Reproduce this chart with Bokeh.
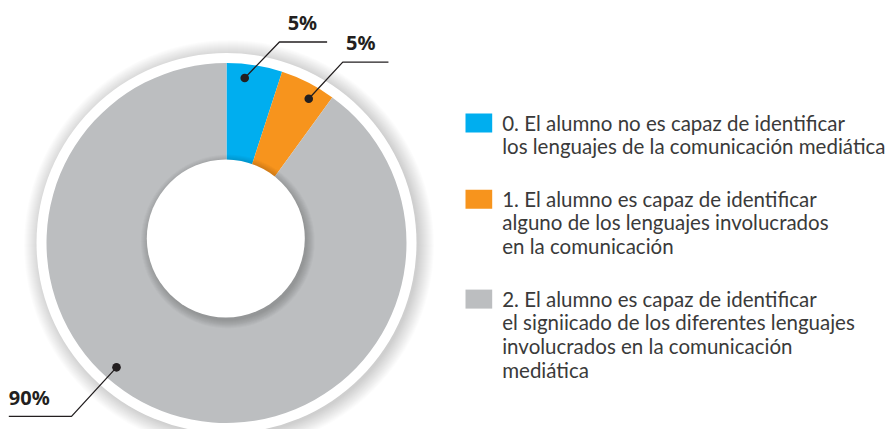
import numpy as np
from bokeh.plotting import figure
from bokeh.models import Range1d
from bokeh.core.properties import value
from bokeh.embed import file_html
from bokeh.resources import INLINE

# ---- data ----
categories = ["0", "1", "2"]
percent = [5, 5, 90]
pct_labels = ["5%", "5%", "90%"]
colors = ["#00AEEF", "#F7941D", "#BCBEC0"]
legend_lines = [
    ["0. El alumno no es capaz de identificar",
     "los lenguajes de la comunicación mediática"],
    ["1. El alumno es capaz de identificar",
     "alguno de los lenguajes involucrados",
     "en la comunicación"],
    ["2. El alumno es capaz de identificar",
     "el signiicado de los diferentes lenguajes",
     "involucrados en la comunicación",
     "mediática"],
]

# ---- layout (pixel units, y up) ----
W, H = 890, 429
TEXT_SHIFT = 8.0  # compensate baseline placement of svg text


def X(rx):
    return rx


def Y(ry):
    return H - ry


CX, CY = X(226.0), Y(242.5)
R_OUT, R_IN = 180.0, 79.0
ICX, ICY = X(225.3), Y(238.0)
DOT_R = 166.0
label_angle_deg = [83.7, 60.3, 228.5]
elbow_dx = [34.7, 34.0, -45.0]
elbow_dy = [36.0, 36.7, -49.0]
hline_len = [47.7, 45.7, -62.7]
label_dx = [23.0, 18.0, -62.7]
label_dy = [12.0, 12.0, 10.7]
label_align = ["center", "center", "left"]

LEG_SQ_X, LEG_SQ_W, LEG_SQ_H = X(465.0), 26.7, 19.0
LEG_TX = X(501.7)
LEG_FIRST_BASE = Y(130.0)
LINE_STEP = 23.7
ITEM_GAP = 52.5

TEXT_COLOR = "#3a3a3a"
DARK = "#231F20"

p = figure(width=W, height=H, x_range=Range1d(0, W), y_range=Range1d(0, H),
           output_backend="svg", toolbar_location=None, min_border=0,
           x_axis_location=None, y_axis_location=None)
p.grid.visible = False
p.outline_line_color = None
p.background_fill_color = "white"
p.border_fill_color = "white"

# outer soft shadow
for rr in np.arange(205, 189, -1):
    p.circle(x=[CX + 2.5], y=[CY - 2.0], radius=float(rr), fill_color="black",
             fill_alpha=0.012, line_color=None)
p.circle(x=[CX], y=[CY], radius=190.0, fill_color="white", line_color=None)

# wedges
frac = np.array(percent, dtype=float) / sum(percent)
cum = np.concatenate([[0.0], np.cumsum(frac)])
start = np.pi / 2 - 2 * np.pi * cum[:-1]
end = np.pi / 2 - 2 * np.pi * cum[1:]
p.wedge(x=CX, y=CY, radius=R_OUT, start_angle=start, end_angle=end,
        direction="clock", fill_color=colors, line_color=None)

# inner shadow + hole
for k in range(8, -1, -1):
    p.circle(x=[ICX + 2.0], y=[ICY - 3.0], radius=R_IN + k, fill_color="black",
             fill_alpha=0.025, line_color=None)
p.circle(x=[ICX], y=[ICY], radius=R_IN, fill_color="white", line_color=None)

# leader lines, dots, labels
for i, lab in enumerate(pct_labels):
    a = np.deg2rad(label_angle_deg[i])
    dx, dy = CX + DOT_R * np.cos(a), CY + DOT_R * np.sin(a)
    ex, ey = dx + elbow_dx[i], dy + elbow_dy[i]
    hx = ex + hline_len[i]
    p.line(x=[dx, ex, hx], y=[dy, ey, ey], line_color=DARK, line_width=1.3)
    p.circle(x=[dx], y=[dy], radius=4.3, fill_color=DARK, line_color=None)
    p.text(x=[ex + label_dx[i]], y=[ey + label_dy[i] + TEXT_SHIFT], text=[lab],
           text_font=value("Noto Sans"), text_font_style="bold",
           text_font_size="20px", text_color=DARK, text_align=label_align[i],
           text_baseline="alphabetic")

# legend
base = LEG_FIRST_BASE
for i, lines in enumerate(legend_lines):
    p.rect(x=[LEG_SQ_X + LEG_SQ_W / 2], y=[base - 2 + LEG_SQ_H / 2],
           width=LEG_SQ_W, height=LEG_SQ_H, fill_color=colors[i], line_color=None)
    ys = [base - j * LINE_STEP for j in range(len(lines))]
    p.text(x=[LEG_TX] * len(lines), y=[v + TEXT_SHIFT for v in ys], text=lines,
           text_font=value("Lato"), text_font_size="20.5px", text_color=TEXT_COLOR,
           text_align="left", text_baseline="alphabetic")
    base = ys[-1] - ITEM_GAP

open("out.html", "w").write(file_html(p, INLINE))
